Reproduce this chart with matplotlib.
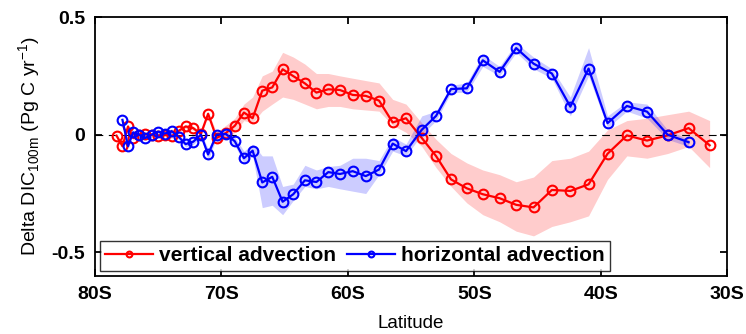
import numpy as np
import matplotlib
matplotlib.use('Agg')
import matplotlib.pyplot as plt

plt.rcParams['font.family'] = ['Liberation Sans', 'DejaVu Sans']

# latitude (negative = south)
lat = [-78.28, -77.81, -77.37, -76.97, -76.50, -76.04, -75.51, -74.99, -74.46, -73.93,
       -73.35, -72.82, -72.22, -71.61, -71.04, -70.37, -69.64, -68.93, -68.21, -67.52,
       -66.76, -65.97, -65.15, -64.31, -63.39, -62.48, -61.54, -60.62, -59.61, -58.58,
       -57.53, -56.45, -55.40, -54.15, -53.02, -51.84, -50.59, -49.33, -48.00, -46.69,
       -45.32, -43.87, -42.41, -40.97, -39.47, -37.94, -36.35, -34.72, -33.06, -31.40]

# vertical advection
vert = [-0.004, -0.049, 0.035, -0.014, 0.000, 0.003, 0.000, -0.004, 0.000, -0.007,
        0.017, 0.035, 0.028, 0.003, 0.089, -0.014, 0.007, 0.038, 0.094, 0.070,
        0.187, 0.201, 0.278, 0.249, 0.218, 0.179, 0.193, 0.190, 0.169, 0.165,
        0.145, 0.052, 0.070, -0.014, -0.091, -0.190, -0.228, -0.253, -0.270, -0.298,
        -0.309, -0.235, -0.239, -0.211, -0.081, -0.003, -0.025, -0.003, 0.028, -0.045]
vert_hi = [0.004, -0.040, 0.044, -0.005, 0.008, 0.011, 0.008, 0.004, 0.008, 0.002,
           0.026, 0.044, 0.037, 0.012, 0.098, 0.010, 0.040, 0.070, 0.130, 0.160,
           0.250, 0.270, 0.350, 0.330, 0.300, 0.260, 0.260, 0.250, 0.240, 0.230,
           0.220, 0.150, 0.130, 0.050, -0.020, -0.080, -0.120, -0.150, -0.170, -0.200,
           -0.180, -0.110, -0.100, -0.070, 0.020, 0.060, 0.070, 0.085, 0.100, 0.060]
vert_lo = [-0.012, -0.058, 0.026, -0.023, -0.008, -0.005, -0.008, -0.012, -0.008, -0.016,
           0.008, 0.026, 0.019, -0.006, 0.080, -0.030, -0.020, 0.010, 0.060, 0.050,
           0.100, 0.130, 0.160, 0.150, 0.130, 0.110, 0.120, 0.120, 0.110, 0.105,
           0.100, 0.040, 0.010, -0.050, -0.140, -0.220, -0.290, -0.340, -0.370, -0.410,
           -0.430, -0.390, -0.370, -0.345, -0.190, -0.090, -0.100, -0.080, -0.050, -0.140]

# horizontal advection
horiz = [np.nan, 0.063, -0.049, 0.010, 0.000, -0.015, 0.000, 0.013, 0.005, 0.015,
         -0.010, -0.040, -0.030, 0.000, -0.084, 0.000, 0.003, -0.028, -0.100, -0.068,
         -0.203, -0.179, -0.285, -0.253, -0.194, -0.201, -0.159, -0.167, -0.155, -0.176,
         -0.148, -0.038, -0.070, 0.021, 0.080, 0.194, 0.197, 0.316, 0.267, 0.368,
         0.302, 0.260, 0.119, 0.281, 0.049, 0.122, 0.098, 0.000, -0.032, np.nan]
horiz_hi = [np.nan, 0.072, -0.038, 0.020, 0.010, -0.005, 0.010, 0.023, 0.015, 0.025,
            0.000, -0.028, -0.018, 0.010, -0.060, 0.012, 0.015, -0.010, -0.070, -0.040,
            -0.090, -0.090, -0.220, -0.210, -0.130, -0.150, -0.135, -0.130, -0.100, -0.100,
            -0.110, -0.010, -0.040, 0.080, 0.100, 0.210, 0.220, 0.340, 0.290, 0.390,
            0.330, 0.280, 0.160, 0.370, 0.080, 0.140, 0.130, 0.020, -0.020, np.nan]
horiz_lo = [np.nan, 0.054, -0.060, 0.000, -0.010, -0.025, -0.010, 0.003, -0.005, 0.005,
            -0.020, -0.052, -0.042, -0.010, -0.110, -0.012, -0.009, -0.045, -0.120, -0.090,
            -0.310, -0.300, -0.340, -0.280, -0.220, -0.230, -0.220, -0.230, -0.240, -0.250,
            -0.170, -0.070, -0.090, 0.000, 0.060, 0.180, 0.180, 0.290, 0.250, 0.350,
            0.280, 0.240, 0.080, 0.250, 0.030, 0.100, 0.070, -0.020, -0.050, np.nan]

xticks = [-80, -70, -60, -50, -40, -30]
xticklabels = ['80S', '70S', '60S', '50S', '40S', '30S']
yticks = [-0.5, 0, 0.5]
yticklabels = ['-0.5', '0', '0.5']

fig = plt.figure(figsize=(7.46, 3.34), dpi=100)
ax = fig.add_axes([0.127, 0.174, 0.848, 0.775])

ax.fill_between(lat, vert_lo, vert_hi, color='#ff0000', alpha=0.2, linewidth=0)
ax.fill_between(lat, horiz_lo, horiz_hi, color='#0000ff', alpha=0.2, linewidth=0)

ax.axhline(0, color='k', linestyle=(0, (7, 5)), linewidth=0.8)

ax.plot(lat, vert, '-o', color='#ff0000', lw=1.6, ms=7, mfc='none', mew=1.5,
        label='vertical advection')
ax.plot(lat, horiz, '-o', color='#0000ff', lw=1.6, ms=7, mfc='none', mew=1.5,
        label='horizontal advection')

ax.set_xlim(-80, -30)
ax.set_ylim(-0.6, 0.5)
ax.set_xticks(xticks)
ax.set_xticklabels(xticklabels, fontsize=14, fontweight='bold')
ax.set_yticks(yticks)
ax.set_yticklabels(yticklabels, fontsize=14, fontweight='bold')
ax.tick_params(direction='in', length=5, width=1.3, top=True, right=True, pad=7)
for s in ax.spines.values():
    s.set_linewidth(1.3)

ax.set_xlabel('Latitude', fontsize=13.5, labelpad=9)
ax.set_ylabel(r'Delta DIC$_{\mathregular{100m}}$ (Pg C yr$^{\mathregular{-1}}$)', fontsize=14,
              labelpad=6)

leg = ax.legend(loc='lower left', ncol=2, prop={'weight': 'bold', 'size': 15},
                frameon=True, fancybox=False, edgecolor='k', borderaxespad=0.25,
                handlelength=2.3, columnspacing=0.5, handletextpad=0.3, borderpad=0.25,
                markerscale=0.6)
leg.get_frame().set_linewidth(1.0)

fig.savefig('out.png', dpi=100)
